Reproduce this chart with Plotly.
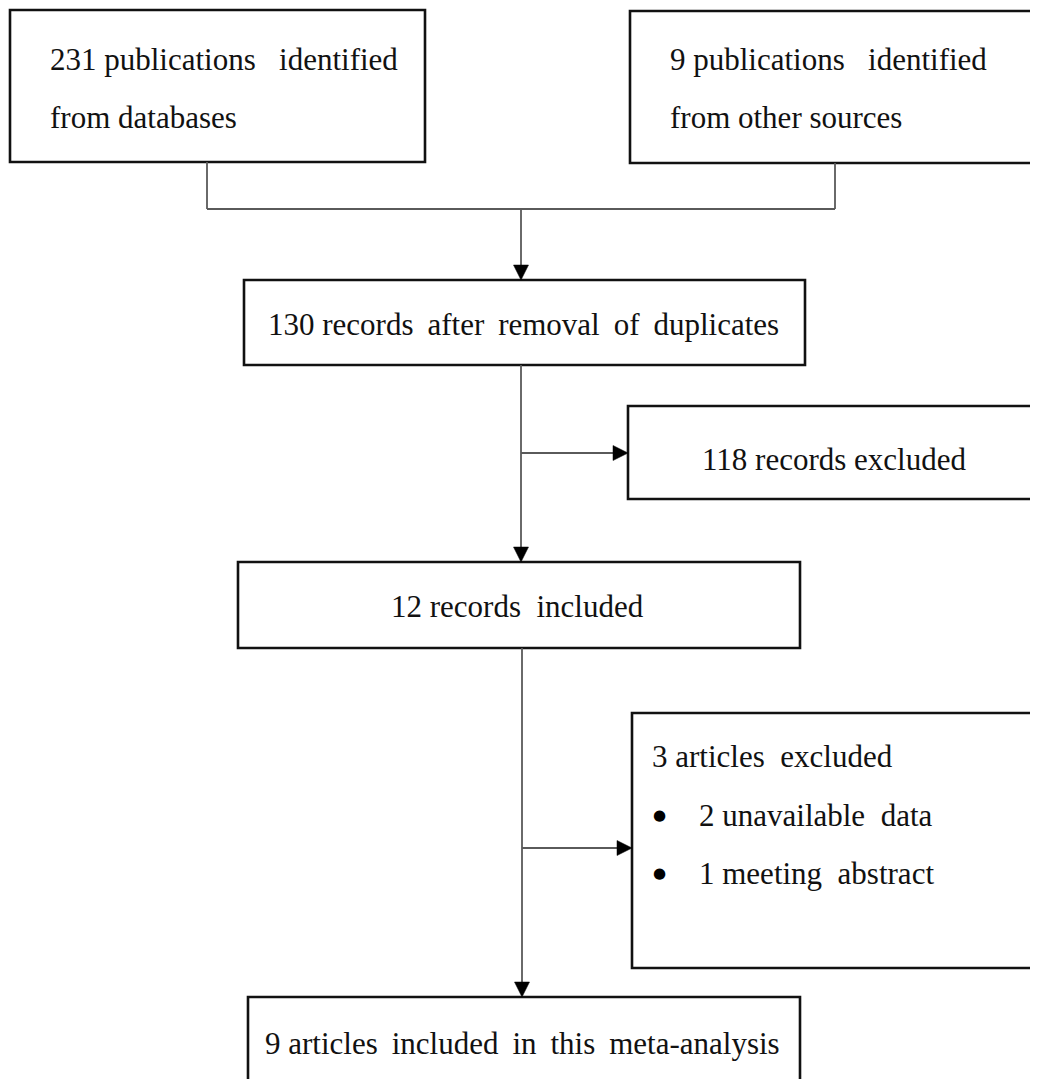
import plotly.graph_objects as go

# ---------------- data (flow-chart content) ----------------
db_count = 231
other_count = 9
after_dedup = 130
screen_excluded = 118
records_included = 12
articles_excluded = 3
exclusion_reasons = ["2 unavailable\u00a0 data", "1 meeting\u00a0 abstract"]
final_included = 9

NB3 = "\u00a0\u00a0 "
TS = "\u2009 "
box_lines = [
    [f"{db_count} publications{NB3}identified", "from databases"],
    [f"{other_count} publications{NB3}identified", "from other sources"],
    [f"{after_dedup} records{TS}after{TS}removal{TS}of{TS}duplicates"],
    [f"{screen_excluded} records excluded"],
    [f"{records_included} records\u00a0 included"],
    [f"{articles_excluded} articles\u00a0 excluded"],
    [f"{final_included} articles{TS}included{TS}in{TS}this{TS}meta-analysis"],
]

# ---------------- layout geometry ----------------
W, H = 1038, 1079
OFF = 8  # page body margin compensation
FONT = "Liberation Serif"
FS = 31
BOX_COLOR = "#111111"
LINE_COLOR = "#5a5a5a"

# boxes: x0, y0, x1, y1 (pixel space, y downwards)
boxes = [
    (10, 10, 425, 162),
    (630, 11, 1060, 163),
    (244, 280, 805, 365),
    (628, 406, 1060, 499),
    (238, 562, 800, 648),
    (632, 713, 1060, 968),
    (248, 997, 800, 1100),
]
# text placement per box: (x, anchor, [y per line])
text_pos = [
    (48, "left", [59, 117]),
    (668, "left", [59, 117]),
    (523, "center", [324]),
    (834, "center", [459]),
    (517, "center", [606]),
    (650, "left", [756]),
    (522, "center", [1043]),
]
reason_text_x = 697
reason_bullet_x = 659
reason_y = [815, 873]

fig = go.Figure()
shapes = []
annotations = []

for (x0, y0, x1, y1) in boxes:
    shapes.append(dict(type="rect", x0=x0, y0=y0, x1=x1, y1=y1, xref="x", yref="y",
                       line=dict(color=BOX_COLOR, width=2.6), fillcolor="white", layer="below"))


def seg(xa, ya, xb, yb):
    shapes.append(dict(type="line", x0=xa, y0=ya, x1=xb, y1=yb, xref="x", yref="y",
                       line=dict(color=LINE_COLOR, width=1.8)))


def head(x, y, direction, L=15, Wd=15):
    if direction == "down":
        p = f"M {x - Wd/2},{y - L} L {x + Wd/2},{y - L} L {x},{y} Z"
    else:
        p = f"M {x - L},{y - Wd/2} L {x - L},{y + Wd/2} L {x},{y} Z"
    shapes.append(dict(type="path", path=p, xref="x", yref="y",
                       fillcolor="#000000", line=dict(color="#000000", width=0.5)))


b1, b2, b3, b4, b5, b6, b7 = boxes
cx1 = 207
cx2 = 835
yj = 209
xm = 521
# merge connector
seg(cx1, b1[3], cx1, yj)
seg(cx2, b2[3], cx2, yj)
seg(cx1, yj, cx2, yj)
seg(xm, yj, xm, b3[1] - 12)
head(xm, b3[1], "down")
# box3 -> box5 with branch to box4
seg(xm, b3[3], xm, b5[1] - 12)
head(xm, b5[1], "down")
yb1 = 453
seg(xm, yb1, b4[0] - 12, yb1)
head(b4[0], yb1, "right")
# box5 -> box7 with branch to box6
xm2 = 522
seg(xm2, b5[3], xm2, b7[1] - 12)
head(xm2, b7[1], "down")
yb2 = 848
seg(xm2, yb2, b6[0] - 12, yb2)
head(b6[0], yb2, "right")

for lines, (tx, anc, ys) in zip(box_lines, text_pos):
    for line, ty in zip(lines, ys):
        annotations.append(dict(x=tx, y=ty, xref="x", yref="y", text=line, showarrow=False,
                                xanchor=anc, yanchor="middle",
                                font=dict(family=FONT, size=FS, color="#111111")))

for reason, ty in zip(exclusion_reasons, reason_y):
    annotations.append(dict(x=reason_bullet_x, y=ty, xref="x", yref="y", text="\u25cf",
                            showarrow=False, xanchor="center", yanchor="middle",
                            font=dict(family="DejaVu Sans", size=15, color="#000000")))
    annotations.append(dict(x=reason_text_x, y=ty, xref="x", yref="y", text=reason,
                            showarrow=False, xanchor="left", yanchor="middle",
                            font=dict(family=FONT, size=FS, color="#111111")))

fig.update_layout(
    width=W, height=H - OFF,
    margin=dict(l=0, r=0, t=0, b=0),
    paper_bgcolor="white", plot_bgcolor="white",
    xaxis=dict(range=[OFF, W + OFF], visible=False, fixedrange=True),
    yaxis=dict(range=[H, OFF], visible=False, fixedrange=True),
    shapes=shapes, annotations=annotations, showlegend=False,
)

fig.write_html("out.html")
